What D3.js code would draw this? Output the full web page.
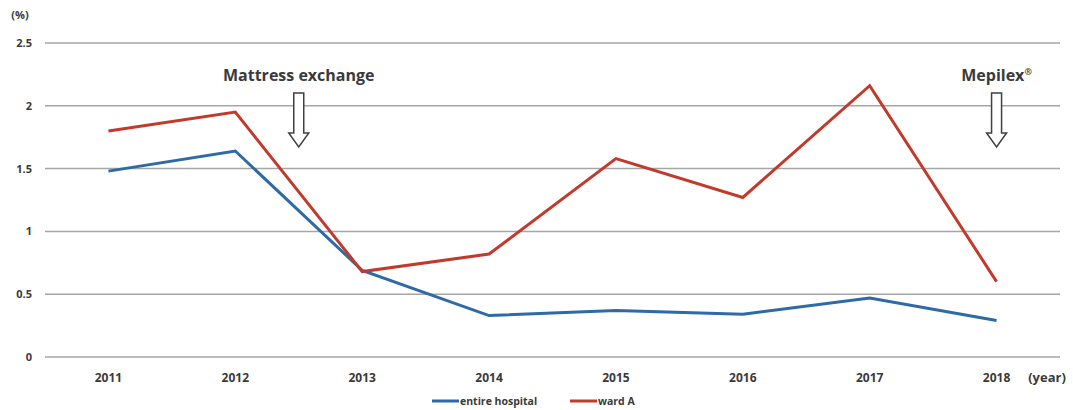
<!DOCTYPE html>
<html>
<head>
<meta charset="utf-8">
<script src="https://cdn.jsdelivr.net/npm/d3@7"></script>
<style>
  body { margin: 0; background: #fff; }
  text { font-family: "Open Sans", "DejaVu Sans", sans-serif; font-weight: bold; fill: #3a3a3a; }
</style>
</head>
<body>
<div id="chart"></div>
<script>
// chart data
var years = ["2011", "2012", "2013", "2014", "2015", "2016", "2017", "2018"];
var entireHospital = [1.48, 1.64, 0.69, 0.33, 0.37, 0.34, 0.47, 0.29];
var wardA = [1.80, 1.95, 0.68, 0.82, 1.58, 1.27, 2.16, 0.60];
var yTicks = [0, 0.5, 1, 1.5, 2, 2.5];
var seriesNames = ["entire hospital", "ward A"];
var seriesColors = ["#2e6aa6", "#c23a2c"];
var notes = [
    {label: "Mattress exchange", sup: "", at: 1.5},
    {label: "Mepilex", sup: "\u00ae", at: 7}
];

var width = 1073, height = 410;
var margin = {top: 43, left: 45, right: 13, bottom: 53};

var svg = d3.select("#chart").append("svg")
    .attr("width", width)
    .attr("height", height);

var x = d3.scaleBand()
    .domain(years)
    .range([margin.left, width - margin.right]);

var y = d3.scaleLinear()
    .domain([0, 2.5])
    .range([height - margin.bottom, margin.top]);

// gridlines
svg.append("g").selectAll("line")
    .data(yTicks)
    .enter().append("line")
        .attr("x1", margin.left)
        .attr("x2", width - margin.right)
        .attr("y1", function(d) { return y(d); })
        .attr("y2", function(d) { return y(d); })
        .attr("stroke", "#a6a6a6")
        .attr("stroke-width", 1.5);

// y labels
svg.append("g").selectAll("text")
    .data(yTicks)
    .enter().append("text")
        .attr("x", 32)
        .attr("y", function(d) { return y(d) + 4; })
        .attr("text-anchor", "end")
        .attr("font-size", "11px")
        .text(function(d) { return d; });

svg.append("text")
    .attr("x", 20).attr("y", 19)
    .attr("text-anchor", "middle")
    .attr("font-size", "11px")
    .text("(%)");

// x labels
svg.append("g").selectAll("text")
    .data(years)
    .enter().append("text")
        .attr("x", function(d) { return x(d) + x.bandwidth() / 2; })
        .attr("y", 382)
        .attr("text-anchor", "middle")
        .attr("font-size", "12px")
        .text(function(d) { return d; });

svg.append("text")
    .attr("x", 1047).attr("y", 382)
    .attr("text-anchor", "middle")
    .attr("font-size", "13px")
    .text("(year)");

// lines
var line = d3.line()
    .x(function(d, i) { return x(years[i]) + x.bandwidth() / 2; })
    .y(function(d) { return y(d); });

[entireHospital, wardA].forEach(function(s, i) {
    svg.append("path")
        .datum(s)
        .attr("fill", "none")
        .attr("stroke", seriesColors[i])
        .attr("stroke-width", 3)
        .attr("d", line);
});

// annotations with hollow arrows
var xPos = d3.scaleLinear()
    .domain([0, years.length - 1])
    .range([x(years[0]) + x.bandwidth() / 2, x(years[years.length - 1]) + x.bandwidth() / 2]);

notes.forEach(function(n) {
    var cx = xPos(n.at);
    var t = svg.append("text")
        .attr("x", cx)
        .attr("y", 81)
        .attr("text-anchor", "middle")
        .attr("font-size", "16px")
        .attr("fill", "#2e2e2e")
        .text(n.label);
    if (n.sup) {
        t.append("tspan")
            .attr("dy", -6)
            .attr("font-size", "9px")
            .text(n.sup);
    }
    var top = 93, neck = 133, tip = 147;
    var arrow = d3.path();
    arrow.moveTo(cx - 5, top);
    arrow.lineTo(cx + 5, top);
    arrow.lineTo(cx + 5, neck);
    arrow.lineTo(cx + 10, neck);
    arrow.lineTo(cx, tip);
    arrow.lineTo(cx - 10, neck);
    arrow.lineTo(cx - 5, neck);
    arrow.closePath();
    svg.append("path")
        .attr("d", arrow.toString())
        .attr("fill", "#fff")
        .attr("stroke", "#404040")
        .attr("stroke-width", 1.5);
});

// legend
var legend = svg.append("g").attr("transform", "translate(432,401)");
var legX = [0, 138];
seriesNames.forEach(function(name, i) {
    var g = legend.append("g").attr("transform", "translate(" + legX[i] + ",0)");
    g.append("line")
        .attr("x1", 0).attr("x2", 27)
        .attr("y1", 0).attr("y2", 0)
        .attr("stroke", seriesColors[i])
        .attr("stroke-width", 3);
    g.append("text")
        .attr("x", 28)
        .attr("y", 4)
        .attr("font-size", "10.5px")
        .text(name);
});
</script>
</body>
</html>
